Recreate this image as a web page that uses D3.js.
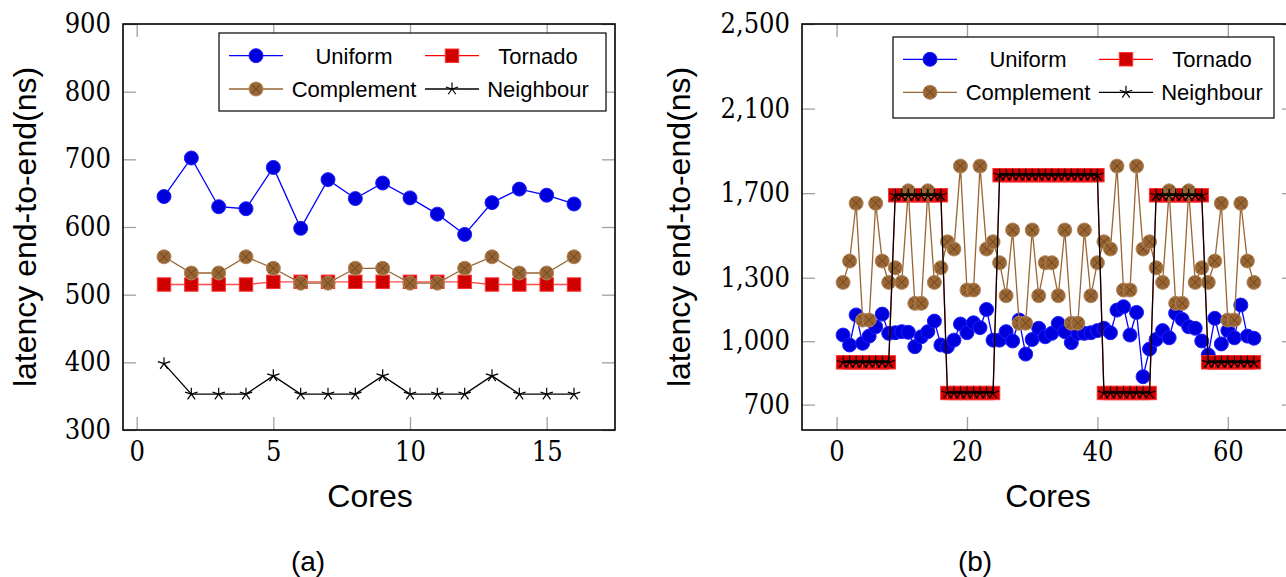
<!DOCTYPE html>
<html>
<head>
<meta charset="utf-8">
<title>Latency end-to-end vs cores</title>
<script src="https://cdn.jsdelivr.net/npm/d3@7"></script>
<style>
  body { margin: 0; background: #fff; }
  .tick line { stroke: #a0a0a0; stroke-width: 1.3; }
  .tick text { fill: #000; }
  .title { font-family: "Liberation Sans", Arial, sans-serif; font-size: 32px; fill: #000; }
  .caption { font-family: "Liberation Sans", Arial, sans-serif; font-size: 28px; fill: #000; }
  .legend text { font-family: "Liberation Sans", Arial, sans-serif; font-size: 22px; fill: #000; }
</style>
</head>
<body>
<svg width="1286" height="577"></svg>
<script>
// ---- data: panel (a), 16 cores ----
var coresA = d3.range(1, 17);
var uniformA    = [645, 702, 630, 627, 688, 598, 670, 642, 665, 643, 619, 589, 636, 656, 647, 634];
var tornadoA    = [515, 515, 515, 515, 519, 519, 519, 519, 519, 519, 519, 519, 515, 515, 515, 515];
var complementA = [556, 532, 532, 556, 539, 517, 517, 539, 539, 517, 517, 539, 556, 532, 532, 556];
var neighbourA  = [398, 353, 353, 353, 380, 353, 353, 353, 380, 353, 353, 353, 380, 353, 353, 353];

// ---- data: panel (b), 64 cores ----
var coresB = d3.range(1, 65);
var uniformB = [1029, 982, 1124, 990, 1024, 1068, 1128, 1037,
                1040, 1045, 1042, 974, 1021, 1045, 1095, 982,
                974, 1005, 1081, 1040, 1087, 1064, 1150, 1005,
                1005, 1045, 1001, 1100, 939, 1008, 1061, 1021,
                1037, 1084, 1045, 993, 1037, 1037, 1040, 1050,
                1061, 1040, 1147, 1163, 1029, 1136, 832, 963,
                1008, 1050, 1016, 1132, 1103, 1068, 1061, 1001,
                935, 1108, 987, 1050, 1016, 1171, 1024, 1014];
var tornadoB = [900, 900, 900, 900, 900, 900, 900, 900,
                1690, 1690, 1690, 1690, 1690, 1690, 1690, 1690,
                755, 755, 755, 755, 755, 755, 755, 755,
                1785, 1785, 1785, 1785, 1785, 1785, 1785, 1785,
                1785, 1785, 1785, 1785, 1785, 1785, 1785, 1785,
                755, 755, 755, 755, 755, 755, 755, 755,
                1690, 1690, 1690, 1690, 1690, 1690, 1690, 1690,
                900, 900, 900, 900, 900, 900, 900, 900];
var complementB = [1278, 1379, 1652, 1100, 1100, 1652, 1379, 1278,
                   1347, 1278, 1711, 1179, 1179, 1711, 1278, 1347,
                   1470, 1436, 1828, 1242, 1242, 1828, 1436, 1470,
                   1371, 1215, 1526, 1085, 1085, 1526, 1215, 1371,
                   1371, 1215, 1526, 1085, 1085, 1526, 1215, 1371,
                   1470, 1436, 1828, 1242, 1242, 1828, 1436, 1470,
                   1347, 1278, 1711, 1179, 1179, 1711, 1278, 1347,
                   1278, 1379, 1652, 1100, 1100, 1652, 1379, 1278];
var neighbourB = [900, 900, 900, 900, 900, 900, 900, 900,
                  1690, 1690, 1690, 1690, 1690, 1690, 1690, 1690,
                  755, 755, 755, 755, 755, 755, 755, 755,
                  1785, 1785, 1785, 1785, 1785, 1785, 1785, 1785,
                  1785, 1785, 1785, 1785, 1785, 1785, 1785, 1785,
                  755, 755, 755, 755, 755, 755, 755, 755,
                  1690, 1690, 1690, 1690, 1690, 1690, 1690, 1690,
                  900, 900, 900, 900, 900, 900, 900, 900];

var xTicksA = [0, 5, 10, 15];
var yTicksA = [300, 400, 500, 600, 700, 800, 900];
var xTicksB = [0, 20, 40, 60];
var yTicksB = [700, 1000, 1300, 1700, 2100, 2500];

var seriesNames = ["Uniform", "Tornado", "Complement", "Neighbour"];

// marker styles, in plot order
var styles = {
  Uniform:    { line: "#0000ff", mark: "circle" },
  Tornado:    { line: "#ff0000", mark: "square" },
  Complement: { line: "#996633", mark: "otimes" },
  Neighbour:  { line: "#000000", mark: "star" }
};

// Liberation Serif is not there, DejaVu Serif Condensed is the nearest to the TeX digits
var tickFont = "DejaVu Serif Condensed, DejaVu Serif";

var svg = d3.select("svg");

function drawMark(sel, kind) {
  if (kind == "circle") {
    sel.append("circle").attr("r", 7).attr("fill", "#0000dd").attr("stroke", "#2020ff").attr("stroke-width", 1);
  } else if (kind == "square") {
    sel.append("rect").attr("x", -6.7).attr("y", -6.7).attr("width", 13.4).attr("height", 13.4)
      .attr("fill", "#d00000").attr("stroke", "#ff3030").attr("stroke-width", 1);
  } else if (kind == "otimes") {
    sel.append("circle").attr("r", 7).attr("fill", "#996633").attr("stroke", "#b08860").attr("stroke-width", 1);
    sel.append("path").attr("d", "M-4.8,-4.8L4.8,4.8M-4.8,4.8L4.8,-4.8")
      .attr("stroke", "#6b4420").attr("stroke-width", 1);
  } else {
    var p = "";
    for (var k = 0; k < 5; k++) {
      var a = (-90 + k * 72) * Math.PI / 180;
      p += "M0,0L" + (6.5 * Math.cos(a)).toFixed(2) + "," + (6.5 * Math.sin(a)).toFixed(2);
    }
    sel.append("path").attr("d", p).attr("stroke", "#000").attr("stroke-width", 1.2).attr("fill", "none");
  }
}

function panel(cfg) {
  var g = svg.append("g");
  var x = d3.scaleLinear().domain(cfg.xDomain).range([cfg.left, cfg.right]);
  var y = d3.scaleLinear().domain(cfg.yDomain).range([cfg.bottom, cfg.top]);

  // ticks (inward, mirrored on the opposite sides)
  var axes = g.append("g").attr("class", "axes");
  axes.append("g").attr("transform", "translate(0," + cfg.bottom + ")")
    .call(d3.axisBottom(x).tickValues(cfg.xTicks).tickSize(-13).tickPadding(12).tickFormat(d3.format("d")));
  axes.append("g").attr("transform", "translate(0," + cfg.top + ")")
    .call(d3.axisTop(x).tickValues(cfg.xTicks).tickSize(-13).tickFormat(""));
  axes.append("g").attr("transform", "translate(" + cfg.left + ",0)")
    .call(d3.axisLeft(y).tickValues(cfg.yTicks).tickSize(-13).tickPadding(12).tickFormat(cfg.yFormat));
  axes.append("g").attr("transform", "translate(" + cfg.right + ",0)")
    .call(d3.axisRight(y).tickValues(cfg.yTicks).tickSize(-13).tickFormat(""));
  axes.selectAll(".domain").remove();
  axes.selectAll("g").attr("font-family", tickFont).attr("font-size", 27);

  // series
  var line = d3.line().x(d => x(d[0])).y(d => y(d[1]));
  seriesNames.forEach(function(name) {
    var vals = cfg.data[name];
    var pts = cfg.cores.map((c, i) => [c, vals[i]]);
    var st = styles[name];
    g.append("path").datum(pts).attr("d", line)
      .attr("fill", "none").attr("stroke", st.line).attr("stroke-width", 1.3)
      .attr("stroke-opacity", name == "Tornado" ? 0.7 : 1);
    g.append("g").selectAll("g").data(pts).join("g")
      .attr("transform", d => "translate(" + x(d[0]) + "," + y(d[1]) + ")")
      .each(function() { drawMark(d3.select(this), st.mark); });
  });

  // frame
  g.append("rect").attr("x", cfg.left).attr("y", cfg.top)
    .attr("width", cfg.right - cfg.left).attr("height", cfg.bottom - cfg.top)
    .attr("fill", "none").attr("stroke", "#000").attr("stroke-width", 1.6);

  // legend
  var L = cfg.legend;
  var lg = g.append("g").attr("class", "legend");
  lg.append("rect").attr("x", L.x0).attr("y", L.y0).attr("width", L.x1 - L.x0).attr("height", L.y1 - L.y0)
    .attr("fill", "#fff").attr("stroke", "#000").attr("stroke-width", 1.2);
  var slots = [
    { name: "Uniform", col: 0, row: 0 }, { name: "Tornado", col: 1, row: 0 },
    { name: "Complement", col: 0, row: 1 }, { name: "Neighbour", col: 1, row: 1 }
  ];
  slots.forEach(function(s) {
    var cx = L.markX[s.col], cy = L.rowY[s.row];
    lg.append("line").attr("x1", cx - 27).attr("x2", cx + 27).attr("y1", cy).attr("y2", cy)
      .attr("stroke", styles[s.name].line).attr("stroke-width", 1.3);
    drawMark(lg.append("g").attr("transform", "translate(" + cx + "," + cy + ")"), styles[s.name].mark);
    lg.append("text").attr("x", L.textX[s.col]).attr("y", cy).attr("dy", "0.36em")
      .attr("text-anchor", "middle").text(s.name);
  });

  // titles
  g.append("text").attr("class", "title")
    .attr("transform", "translate(" + cfg.yTitleX + "," + ((cfg.top + cfg.bottom) / 2) + ") rotate(-90)")
    .attr("text-anchor", "middle").text("latency end-to-end(ns)");
  g.append("text").attr("class", "title").attr("x", cfg.xTitleX).attr("y", 507)
    .attr("text-anchor", "middle").text("Cores");
  g.append("text").attr("class", "caption").attr("x", cfg.captionX).attr("y", 571)
    .attr("text-anchor", "middle").text(cfg.caption);
}

panel({
  cores: coresA,
  data: { Uniform: uniformA, Tornado: tornadoA, Complement: complementA, Neighbour: neighbourA },
  xDomain: [-0.5, 17.5], yDomain: [300, 900],
  left: 123, right: 615, top: 24, bottom: 430,
  xTicks: xTicksA, yTicks: yTicksA, yFormat: d3.format("d"),
  legend: { x0: 219, y0: 33, x1: 606, y1: 111, rowY: [55.7, 89], markX: [256, 452], textX: [354, 538] },
  yTitleX: 36, xTitleX: 370, captionX: 308, caption: "(a)"
});

panel({
  cores: coresB,
  data: { Uniform: uniformB, Tornado: tornadoB, Complement: complementB, Neighbour: neighbourB },
  xDomain: [-5.3, 70.3], yDomain: [580, 2500],
  left: 802, right: 1295, top: 24, bottom: 430,
  xTicks: xTicksB, yTicks: yTicksB, yFormat: d3.format(","),
  legend: { x0: 893, y0: 37, x1: 1274, y1: 118, rowY: [59.3, 92.3], markX: [930, 1126], textX: [1028, 1212] },
  yTitleX: 690, xTitleX: 1048, captionX: 975, caption: "(b)"
});
</script>
</body>
</html>
